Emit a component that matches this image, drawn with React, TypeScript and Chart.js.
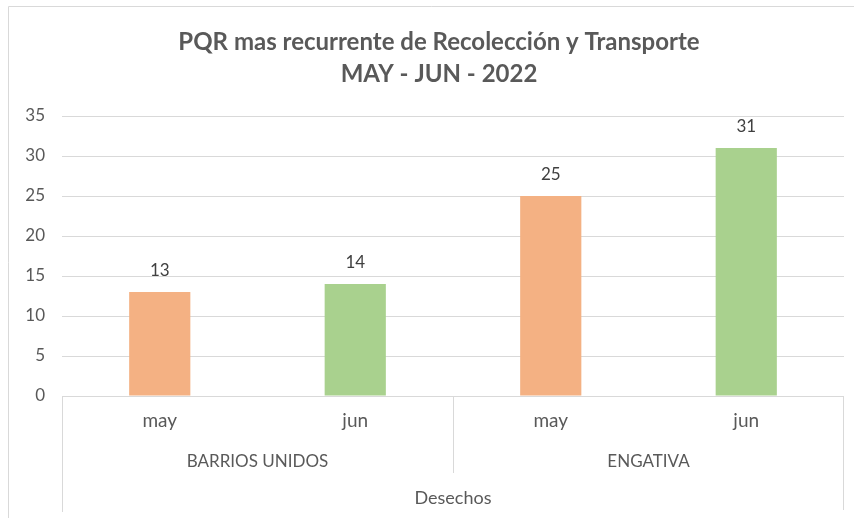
import React, { useEffect, useRef } from "react";
import { Chart, registerables } from "chart.js";

Chart.register(...registerables);

const titleLines = ["PQR mas recurrente de Recolección y Transporte", "MAY - JUN - 2022"];
const categories = ["may", "jun", "may", "jun"];
const groups = ["BARRIOS UNIDOS", "BARRIOS UNIDOS", "ENGATIVA", "ENGATIVA"];
const topGroup = "Desechos";
const values = [13, 14, 25, 31];
const barColors = ["#F4B183", "#A9D18E", "#F4B183", "#A9D18E"];
const yTicks = [0, 5, 10, 15, 20, 25, 30, 35];

const FONT = "Lato, 'Liberation Sans', sans-serif";
const GRID = "#d9d9d9";
const TEXT = "#595959";

const overlay = {
  id: "overlay",
  afterDraw(chart: any) {
    const { ctx, chartArea } = chart;
    const x = chart.scales.x;
    const { left, right, bottom } = chartArea;
    ctx.save();
    // outer frame
    ctx.strokeStyle = GRID;
    ctx.lineWidth = 1;
    ctx.beginPath();
    ctx.moveTo(8.5, 518);
    ctx.lineTo(8.5, 6.5);
    ctx.lineTo(854, 6.5);
    ctx.stroke();

    // title
    ctx.fillStyle = TEXT;
    ctx.textAlign = "center";
    ctx.textBaseline = "middle";
    ctx.font = `bold 24px ${FONT}`;
    ctx.fillText(titleLines[0], 439, 42);
    ctx.fillText(titleLines[1], 439, 74);

    // data labels
    ctx.font = `17px ${FONT}`;
    ctx.fillStyle = "#404040";
    const meta = chart.getDatasetMeta(0);
    meta.data.forEach((bar: any, i: number) => {
      ctx.fillText(String(values[i]), bar.x, bar.y - 21);
    });

    // multi-level axis lines
    ctx.strokeStyle = GRID;
    ctx.beginPath();
    ctx.moveTo(left, Math.round(bottom) + 0.5);
    ctx.lineTo(right, Math.round(bottom) + 0.5);
    ctx.moveTo(Math.round(left) + 0.5, bottom);
    ctx.lineTo(Math.round(left) + 0.5, bottom + 116);
    ctx.moveTo(Math.round(right) - 0.5, bottom);
    ctx.lineTo(Math.round(right) - 0.5, bottom + 114);
    for (let i = 1; i < groups.length; i++) {
      if (groups[i] !== groups[i - 1]) {
        const mx = Math.round((x.getPixelForValue(i - 1) + x.getPixelForValue(i)) / 2) + 0.5;
        ctx.moveTo(mx, bottom);
        ctx.lineTo(mx, bottom + 77);
      }
    }
    ctx.stroke();

    // category labels
    ctx.fillStyle = TEXT;
    ctx.font = `19px ${FONT}`;
    categories.forEach((c, i) => {
      ctx.fillText(c, x.getPixelForValue(i), bottom + 25);
    });
    // group labels
    ctx.font = `17px ${FONT}`;
    let start = 0;
    for (let i = 1; i <= groups.length; i++) {
      if (i === groups.length || groups[i] !== groups[start]) {
        const cx = (x.getPixelForValue(start) + x.getPixelForValue(i - 1)) / 2;
        ctx.fillText(groups[start], cx, bottom + 66);
        start = i;
      }
    }
    ctx.font = `18px ${FONT}`;
    ctx.fillText(topGroup, (left + right) / 2, bottom + 102);
    ctx.restore();
  },
};

export default function App() {
  const ref = useRef<HTMLCanvasElement>(null);
  useEffect(() => {
    if (!ref.current) return;
    const chart = new Chart(ref.current, {
      type: "bar",
      data: {
        labels: categories,
        datasets: [
          {
            data: values,
            backgroundColor: barColors,
            barPercentage: 0.313,
            categoryPercentage: 1,
          },
        ],
      },
      options: {
        animation: false,
        responsive: true,
        maintainAspectRatio: false,
        layout: { padding: { top: 116, right: 10, bottom: 122, left: 0 } },
        plugins: { legend: { display: false }, title: { display: false }, tooltip: { enabled: false } },
        scales: {
          x: { display: false },
          y: {
            min: 0,
            max: 35,
            afterBuildTicks: (s: any) => {
              s.ticks = yTicks.map((v) => ({ value: v }));
            },
            afterFit: (s: any) => {
              s.width = 62;
            },
            border: { display: false },
            grid: { color: GRID, drawTicks: false },
            ticks: {
              color: TEXT,
              font: { family: FONT, size: 17 },
              padding: 17,
            },
          },
        },
      },
      plugins: [overlay],
    });
    return () => chart.destroy();
  }, []);
  return (
    <div style={{ position: "fixed", left: 0, top: 0, width: 854, height: 518, background: "#fff" }}>
      <canvas ref={ref} />
    </div>
  );
}
